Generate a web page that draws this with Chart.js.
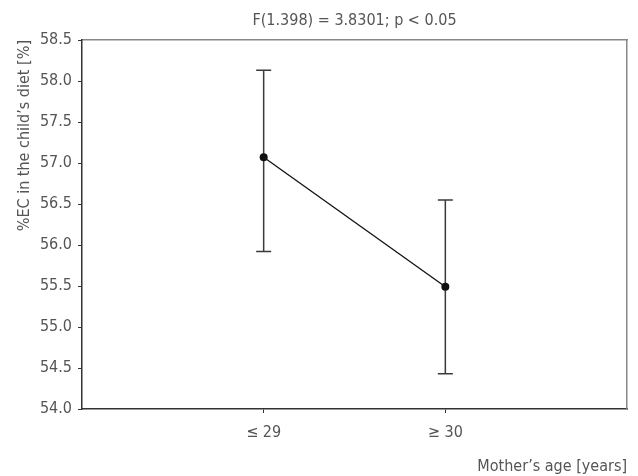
<!DOCTYPE html>
<html>
<head>
<meta charset="utf-8">
<script src="https://cdn.jsdelivr.net/npm/chart.js@4"></script>
<style>
  html, body { margin: 0; padding: 0; background: #fff; }
  canvas { display: block; }
</style>
</head>
<body>
<canvas id="c" width="638" height="476"></canvas>
<script>
// ---- data ----
const categories = ['≤ 29', '≥ 30'];
const means = [57.07, 55.49];
const upper = [58.13, 56.55];
const lower = [55.92, 54.43];
const yTicks = [54.0, 54.5, 55.0, 55.5, 56.0, 56.5, 57.0, 57.5, 58.0, 58.5];
const titleText = 'F(1.398) = 3.8301; p < 0.05';
const yTitle = '%EC in the child\u2019s diet [%]';
const xTitle = 'Mother\u2019s age [years]';

const FAMILY = "'Liberation Sans Narrow', 'DejaVu Sans Condensed', 'Roboto Condensed', sans-serif";
const TXT = '#555555';
const font = { family: FAMILY, size: 16, lineHeight: 1.2 };

const errorBars = {
  id: 'errorBars',
  beforeDatasetsDraw(chart) {
    const { ctx, scales } = chart;
    const xs = scales.x, ys = scales.y;
    ctx.save();
    ctx.strokeStyle = '#3a3a3a';
    ctx.lineWidth = 1.5;
    categories.forEach((c, i) => {
      const px = xs.getPixelForValue(i + 1);
      const pt = ys.getPixelForValue(upper[i]);
      const pb = ys.getPixelForValue(lower[i]);
      ctx.beginPath();
      ctx.moveTo(px, pt); ctx.lineTo(px, pb);
      ctx.moveTo(px - 7.5, pt); ctx.lineTo(px + 7.5, pt);
      ctx.moveTo(px - 7.5, pb); ctx.lineTo(px + 7.5, pb);
      ctx.stroke();
    });
    ctx.restore();
  }
};

new Chart(document.getElementById('c'), {
  type: 'line',
  data: {
    datasets: [{
      data: categories.map((c, i) => ({ x: i + 1, y: means[i] })),
      borderColor: '#111111',
      borderWidth: 1.3,
      pointRadius: 4,
      pointBackgroundColor: '#111111',
      pointBorderColor: '#111111',
      pointBorderWidth: 0,
      tension: 0
    }]
  },
  options: {
    responsive: false,
    animation: false,
    layout: { padding: { left: 0, right: 11, top: 0, bottom: 0 } },
    plugins: { legend: { display: false }, tooltip: { enabled: false }, title: { display: false } },
    scales: {
      x: {
        type: 'linear',
        position: 'bottom',
        min: 0, max: 3,
        afterBuildTicks: (s) => { s.ticks = categories.map((c, i) => ({ value: i + 1 })); },
        afterFit: (s) => { s.height = 67; },
        ticks: {
          color: TXT, font, padding: 10,
          callback: (v) => categories[v - 1]
        },
        grid: { drawOnChartArea: false, tickLength: 4, color: '#333333' },
        border: { color: '#333333', width: 1.5 },
        title: { display: true, text: xTitle, align: 'end', color: TXT, font, padding: { top: 0, bottom: 0 } }
      },
      x2: {
        type: 'linear',
        position: 'top',
        min: 0, max: 3,
        afterFit: (s) => { s.height = 40; },
        ticks: { display: false },
        grid: { drawOnChartArea: false, drawTicks: false },
        border: { color: '#888888', width: 1.5 },
        title: { display: true, text: titleText, color: TXT, font, padding: { top: 11, bottom: 0 } }
      },
      y: {
        type: 'linear',
        position: 'left',
        min: 54, max: 58.5,
        afterBuildTicks: (s) => { s.ticks = yTicks.map(v => ({ value: v })); },
        afterFit: (s) => { s.width = 82; },
        ticks: { color: TXT, font, padding: 6, callback: (v) => Number(v).toFixed(1) },
        grid: { drawOnChartArea: false, tickLength: 4, color: '#333333' },
        border: { color: '#333333', width: 1.5 },
        title: { display: true, text: yTitle, align: 'end', color: TXT, font, padding: { top: 15, bottom: 0 } }
      },
      y2: {
        type: 'linear',
        position: 'right',
        min: 54, max: 58.5,
        afterFit: (s) => { s.width = 0; },
        ticks: { display: false },
        grid: { drawOnChartArea: false, drawTicks: false },
        border: { color: '#888888', width: 1.5 }
      }
    }
  },
  plugins: [errorBars]
});
</script>
</body>
</html>
